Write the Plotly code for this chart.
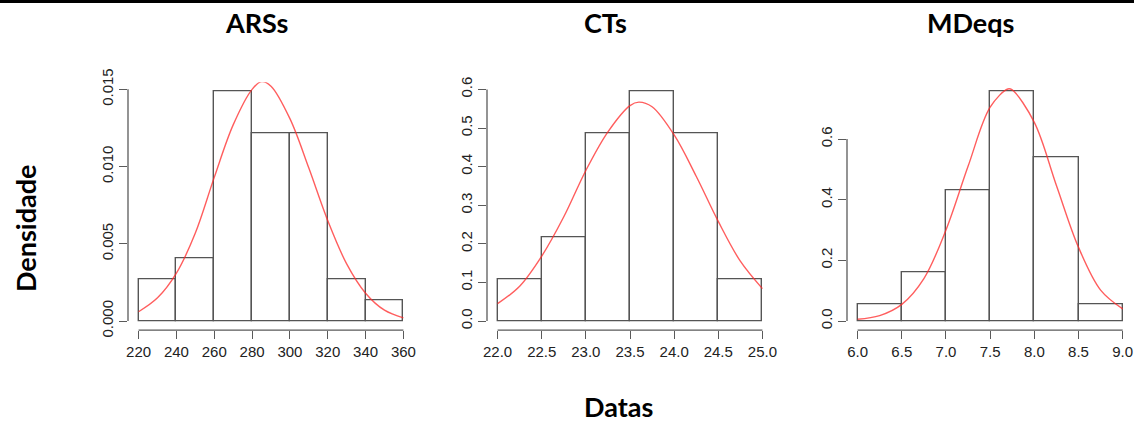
import plotly.graph_objects as go

W, H = 1134, 423

# ---------------- data ----------------
titles = ["ARSs", "CTs", "MDeqs"]

breaks_ars = [220, 240, 260, 280, 300, 320, 340, 360]
dens_ars = [0.0027, 0.00405, 0.01486, 0.01216, 0.01216, 0.0027, 0.00135]
curve_ars_x = [220, 230, 240, 250, 260, 270, 280, 285, 290, 300, 310, 320, 330, 340, 350, 360]
curve_ars_y = [0.0006, 0.0015, 0.0031, 0.0057, 0.0093, 0.0127, 0.0150, 0.0155, 0.0152,
               0.0131, 0.0099, 0.0065, 0.0037, 0.0018, 0.0007, 0.0002]
yticks_ars = [0.000, 0.005, 0.010, 0.015]
yticklabels_ars = ["0.000", "0.005", "0.010", "0.015"]
xticks_ars = [220, 240, 260, 280, 300, 320, 340, 360]
xticklabels_ars = ["220", "240", "260", "280", "300", "320", "340", "360"]

breaks_ct = [22.0, 22.5, 23.0, 23.5, 24.0, 24.5, 25.0]
dens_ct = [0.1081, 0.2162, 0.4865, 0.5946, 0.4865, 0.1081]
curve_ct_x = [22.0, 22.25, 22.5, 22.75, 23.0, 23.25, 23.5, 23.6, 23.75, 24.0, 24.25, 24.5, 24.75, 25.0]
curve_ct_y = [0.045, 0.090, 0.168, 0.270, 0.390, 0.490, 0.558, 0.567, 0.555, 0.482,
              0.375, 0.258, 0.155, 0.084]
yticks_ct = [0.0, 0.1, 0.2, 0.3, 0.4, 0.5, 0.6]
yticklabels_ct = ["0.0", "0.1", "0.2", "0.3", "0.4", "0.5", "0.6"]
xticks_ct = [22.0, 22.5, 23.0, 23.5, 24.0, 24.5, 25.0]
xticklabels_ct = ["22.0", "22.5", "23.0", "23.5", "24.0", "24.5", "25.0"]

breaks_md = [6.0, 6.5, 7.0, 7.5, 8.0, 8.5, 9.0]
dens_md = [0.0541, 0.1622, 0.4324, 0.7568, 0.5405, 0.0541]
curve_md_x = [6.0, 6.25, 6.5, 6.75, 7.0, 7.25, 7.5, 7.7, 7.75, 8.0, 8.25, 8.5, 8.75, 9.0]
curve_md_y = [0.006, 0.018, 0.055, 0.140, 0.300, 0.510, 0.705, 0.765, 0.762, 0.655,
              0.447, 0.243, 0.102, 0.040]
yticks_md = [0.0, 0.2, 0.4, 0.6]
yticklabels_md = ["0.0", "0.2", "0.4", "0.6"]
xticks_md = [6.0, 6.5, 7.0, 7.5, 8.0, 8.5, 9.0]
xticklabels_md = ["6.0", "6.5", "7.0", "7.5", "8.0", "8.5", "9.0"]

ylabel = "Densidade"
xlabel = "Datas"

panels = [
    (breaks_ars, dens_ars, curve_ars_x, curve_ars_y, xticks_ars, xticklabels_ars, yticks_ars, yticklabels_ars),
    (breaks_ct, dens_ct, curve_ct_x, curve_ct_y, xticks_ct, xticklabels_ct, yticks_ct, yticklabels_ct),
    (breaks_md, dens_md, curve_md_x, curve_md_y, xticks_md, xticklabels_md, yticks_md, yticklabels_md),
]

# ---------------- layout geometry (pixels) ----------------
x_domains_px = [(128, 414), (487, 773), (847, 1133.3)]
y_dom_px = (82.3, 330.2)  # top, bottom
title_x_px = [256, 605, 970]
title_y_px = 23

AXIS_COL = "#5a5a5a"
BAR_COL = "#555555"
TICK_FONT = dict(family="Liberation Sans, Arial, sans-serif", size=15, color="#222222")
LABEL_FONT = dict(family="Lato, Carlito, sans-serif", size=27, color="#000000")

fig = go.Figure()
layout = dict(
    template="none",
    width=W, height=H, margin=dict(l=0, r=0, t=0, b=0, pad=0),
    paper_bgcolor="white", plot_bgcolor="white", showlegend=False,
    autosize=False, bargap=0,
)
shapes = []
annotations = []

ydom = [1 - y_dom_px[1] / H, 1 - y_dom_px[0] / H]

for i, (brk, dens, cx, cy, xt, xtl, yt, ytl) in enumerate(panels):
    k = "" if i == 0 else str(i + 1)
    xa, ya = "x" + k, "y" + k
    mids = [(brk[j] + brk[j + 1]) / 2 for j in range(len(dens))]
    widths = [brk[j + 1] - brk[j] for j in range(len(dens))]
    fig.add_trace(go.Bar(
        x=mids, y=dens, width=widths, xaxis=xa, yaxis=ya,
        marker=dict(color="white", line=dict(color=BAR_COL, width=1.4)),
        hoverinfo="skip",
    ))
    fig.add_trace(go.Scatter(
        x=cx, y=cy, xaxis=xa, yaxis=ya, mode="lines",
        line=dict(color="rgba(255,40,40,0.75)", width=1.4, shape="spline", smoothing=1.0),
        cliponaxis=False, hoverinfo="skip",
    ))
    span = brk[-1] - brk[0]
    xr = [brk[0] - 0.04 * span, brk[-1] + 0.04 * span]
    ymax = max(dens)
    yr = [-0.04 * ymax, ymax * 1.04]
    xd = [x_domains_px[i][0] / W, x_domains_px[i][1] / W]
    layout["xaxis" + k] = dict(
        domain=xd, range=xr, anchor=ya, showgrid=False, zeroline=False, showline=False,
        ticks="outside", ticklen=8, tickwidth=1.3, tickcolor=AXIS_COL, automargin=False,
        tickvals=xt, ticktext=xtl, tickfont=TICK_FONT, fixedrange=True,
    )
    layout["yaxis" + k] = dict(
        domain=ydom, range=yr, anchor=xa, showgrid=False, zeroline=False, showline=False,
        ticks="outside", ticklen=8, tickwidth=1.3, tickcolor=AXIS_COL, automargin=False,
        tickvals=yt, ticktext=ytl, tickfont=TICK_FONT, tickangle=-90, fixedrange=True,
    )

    def px_x(v):
        return xd[0] + (v - xr[0]) / (xr[1] - xr[0]) * (xd[1] - xd[0])

    def px_y(v):
        return ydom[0] + (v - yr[0]) / (yr[1] - yr[0]) * (ydom[1] - ydom[0])

    # R-style detached axis lines spanning first..last tick
    shapes.append(dict(type="line", xref="paper", yref="paper",
                       x0=px_x(xt[0]), x1=px_x(xt[-1]), y0=ydom[0], y1=ydom[0],
                       line=dict(color=AXIS_COL, width=1.3)))
    shapes.append(dict(type="line", xref="paper", yref="paper",
                       x0=xd[0], x1=xd[0], y0=px_y(yt[0]), y1=px_y(yt[-1]),
                       line=dict(color=AXIS_COL, width=1.3)))
    annotations.append(dict(
        text="<b>%s</b>" % titles[i], x=title_x_px[i] / W, y=1 - title_y_px / H,
        xref="paper", yref="paper", showarrow=False, xanchor="center", yanchor="middle",
        font=LABEL_FONT,
    ))

annotations.append(dict(
    text="<b>%s</b>" % ylabel, x=25 / W, y=1 - 228 / H, xref="paper", yref="paper",
    showarrow=False, textangle=-90, xanchor="center", yanchor="middle", font=LABEL_FONT,
))
annotations.append(dict(
    text="<b>%s</b>" % xlabel, x=618 / W, y=1 - 406 / H, xref="paper", yref="paper",
    showarrow=False, xanchor="center", yanchor="middle", font=LABEL_FONT,
))

# thick black rule at the top
shapes.append(dict(type="rect", xref="paper", yref="paper", x0=0, x1=1,
                   y0=1 - 3 / H, y1=1, fillcolor="black", line=dict(width=0)))

layout["shapes"] = shapes
layout["annotations"] = annotations
fig.update_layout(**layout)

fig.write_html(
    "out.html",
    config={"displayModeBar": False},
    post_script="document.body.style.margin='0';document.body.style.overflow='hidden';",
)
